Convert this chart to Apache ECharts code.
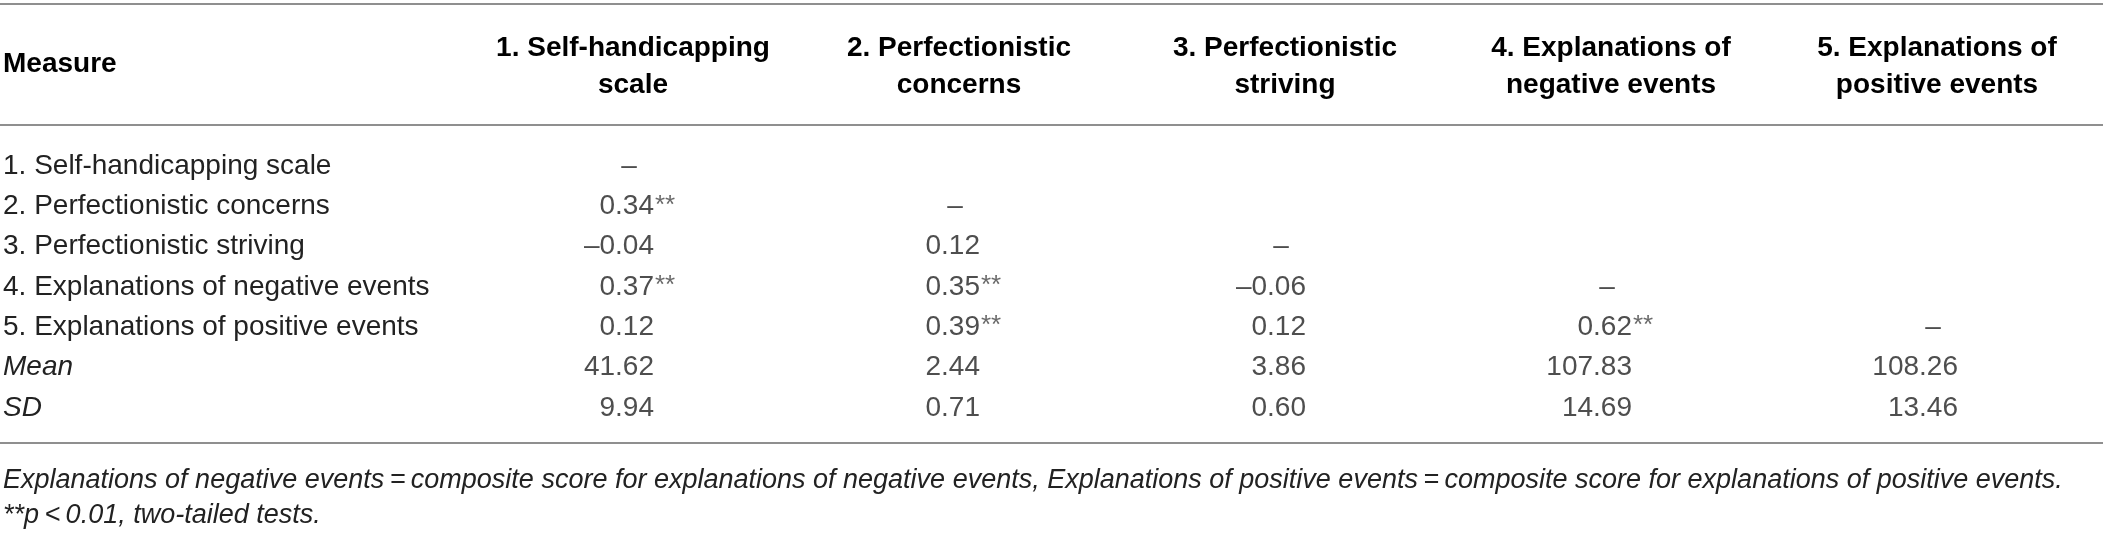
<!DOCTYPE html>
<html>
<head>
<meta charset="utf-8">
<title>Correlations table</title>
<script src="https://cdn.jsdelivr.net/npm/echarts@6/dist/echarts.min.js"></script>
<style>
  html, body { margin: 0; padding: 0; background: #fff; }
  #table { width: 2103px; height: 538px; }
</style>
</head>
<body>
<div id="table"></div>
<script>
// row labels (left column)
const measures = [
  '1. Self-handicapping scale',
  '2. Perfectionistic concerns',
  '3. Perfectionistic striving',
  '4. Explanations of negative events',
  '5. Explanations of positive events'
];
const statLabels = ['Mean', 'SD'];

// column heads
const columnHeads = [
  '1. Self-handicapping\nscale',
  '2. Perfectionistic\nconcerns',
  '3. Perfectionistic\nstriving',
  '4. Explanations of\nnegative events',
  '5. Explanations of\npositive events'
];

// lower triangle of the correlation matrix, row i / column j
const corr = [
  [],
  [0.34],
  [-0.04, 0.12],
  [0.37, 0.35, -0.06],
  [0.12, 0.39, 0.12, 0.62]
];
// ** p < 0.01
const sig = [
  [],
  [true],
  [false, false],
  [true, true, false],
  [false, true, false, true]
];
const means = [41.62, 2.44, 3.86, 107.83, 108.26];
const sds = [9.94, 0.71, 0.60, 14.69, 13.46];

const notes = [
  'Explanations of negative events\u2009=\u2009composite score for explanations of negative events, Explanations of positive events\u2009=\u2009composite score for explanations of positive events.',
  '**p\u2009<\u20090.01, two-tailed tests.'
];

const FONT = "'Liberation Sans', Arial, Helvetica, sans-serif";
const TEXT = '#222';
const RULE = '#8f8f8f';

function fmt(v) {
  // tables use an en dash for minus
  return v < 0 ? '\u2013' + Math.abs(v).toFixed(2) : v.toFixed(2);
}

var rowLabels = measures.concat(statLabels);

var numCells = [];
var starCells = [];
var dashCells = [];
for (let i = 0; i < measures.length; i++) {
  for (let j = 0; j < i; j++) {
    numCells.push([j + 1, i, fmt(corr[i][j])]);
    if (sig[i][j]) {
      starCells.push([j + 1, i, '**']);
    }
  }
  dashCells.push([i + 1, i, '\u2013']);
}
means.forEach((m, j) => numCells.push([j + 1, measures.length, m.toFixed(2)]));
sds.forEach((s, j) => numCells.push([j + 1, measures.length + 1, s.toFixed(2)]));

function cellSeries(name, data, label) {
  return {
    name: name,
    type: 'scatter',
    data: data,
    symbolSize: 1,
    itemStyle: { color: 'rgba(0,0,0,0)' },
    silent: true,
    label: Object.assign({
      show: true,
      position: 'inside',
      color: TEXT,
      fontFamily: FONT,
      fontSize: 28,
      formatter: p => p.value[2]
    }, label)
  };
}

var chart = echarts.init(document.getElementById('table'), null, { renderer: 'canvas' });

chart.setOption({
  backgroundColor: '#fff',
  animation: false,
  grid: { left: 307, top: 146, width: 1809.5, height: 282, containLabel: false },
  xAxis: {
    type: 'value',
    position: 'top',
    min: 0,
    max: 5.5,
    interval: 1,
    axisLine: { show: false },
    axisTick: { show: false },
    splitLine: { show: false },
    axisLabel: {
      margin: 42,
      color: '#000',
      fontFamily: FONT,
      fontWeight: 'bold',
      fontSize: 28,
      lineHeight: 37,
      align: 'center',
      formatter: v => (Number.isInteger(v) && v >= 1 && v <= 5) ? columnHeads[v - 1] : ''
    }
  },
  yAxis: {
    type: 'category',
    inverse: true,
    data: rowLabels,
    axisLine: { show: false },
    axisTick: { show: false },
    splitLine: { show: false },
    axisLabel: {
      margin: 304,
      align: 'left',
      color: TEXT,
      fontFamily: FONT,
      fontSize: 28,
      formatter: v => statLabels.indexOf(v) >= 0 ? '{it|' + v + '}' : v,
      rich: {
        it: { fontStyle: 'italic', fontFamily: FONT, fontSize: 28, color: TEXT }
      }
    }
  },
  series: [
    cellSeries('values', numCells, { align: 'right', offset: [21, 0] }),
    cellSeries('stars', starCells, { align: 'left', offset: [22, -1], fontSize: 26, color: '#444' }),
    cellSeries('diagonal', dashCells, { align: 'center', offset: [-4, 0] })
  ],
  graphic: [
    { type: 'line', shape: { x1: 0, y1: 4, x2: 2103, y2: 4 }, style: { stroke: RULE, lineWidth: 2 } },
    { type: 'line', shape: { x1: 0, y1: 125, x2: 2103, y2: 125 }, style: { stroke: RULE, lineWidth: 2 } },
    { type: 'line', shape: { x1: 0, y1: 443, x2: 2103, y2: 443 }, style: { stroke: RULE, lineWidth: 2 } },
    {
      type: 'text', left: 3, top: 50,
      style: { text: 'Measure', fill: '#000', font: 'bold 28px ' + FONT }
    },
    {
      type: 'text', left: 3, top: 467,
      style: { text: notes[0], fill: TEXT, font: 'italic 27px ' + FONT }
    },
    {
      type: 'text', left: 3, top: 502,
      style: { text: notes[1], fill: TEXT, font: 'italic 27px ' + FONT }
    }
  ]
});
</script>
</body>
</html>
